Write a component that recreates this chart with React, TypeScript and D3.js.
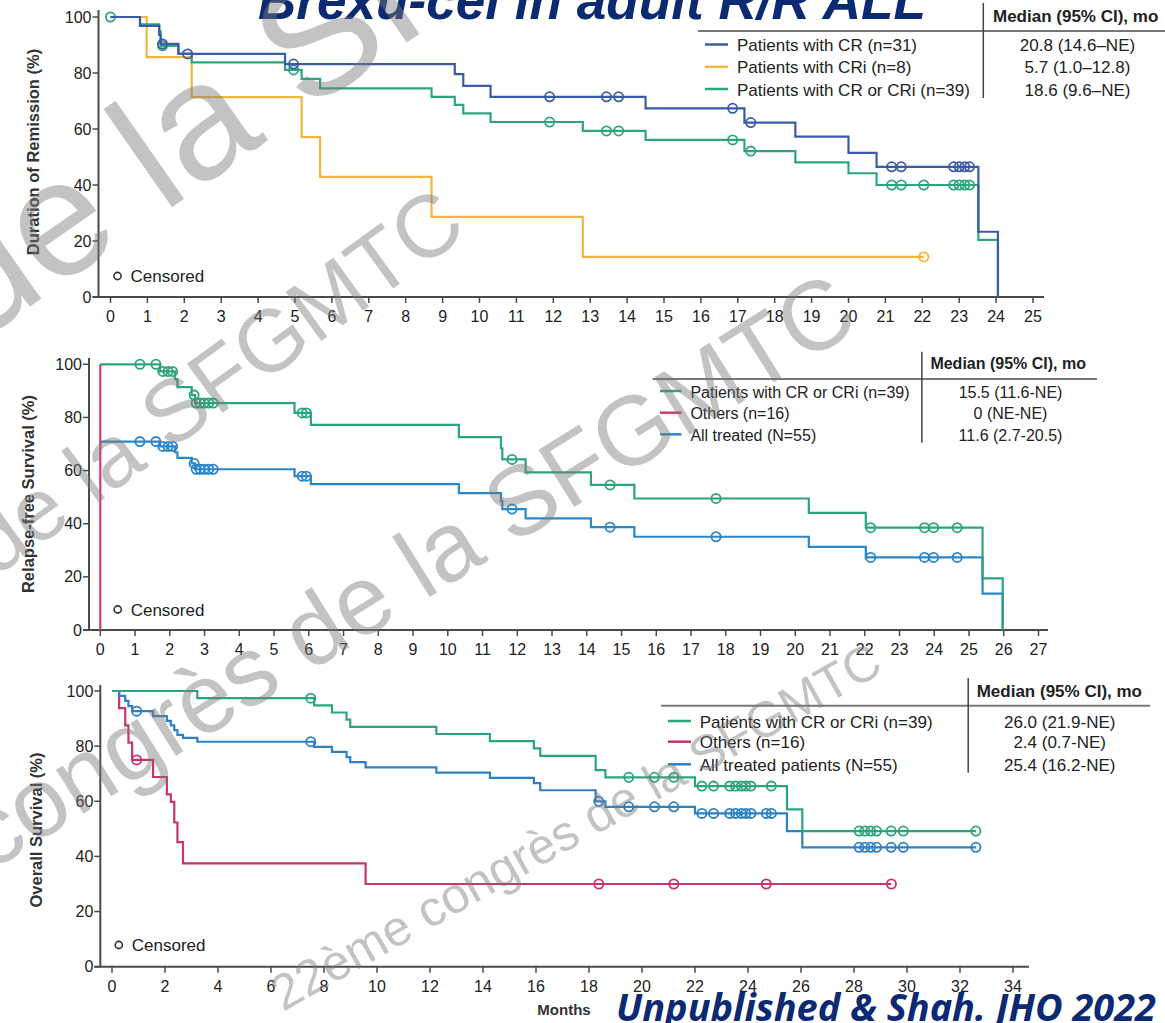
import React from "react"
import * as d3 from "d3"

// ---------- Panel 1 : duration of remission ----------
const dorCrTimes = [0, 0.8, 1.32, 1.36, 1.84, 4.73, 9.33, 9.56, 10.3, 14.5, 17.18, 18.56, 20.0, 20.76, 23.52, 24.05]
const dorCrSurv = [100, 96.8, 93.6, 90.4, 86.8, 83.2, 79.6, 75.4, 71.5, 67.4, 62.3, 57.3, 51.5, 46.5, 23.3, 0]
const dorCrCens = [1.41, 2.09, 4.96, 11.9, 13.44, 13.77, 16.86, 17.35, 21.17, 21.43, 22.85, 23.0, 23.15, 23.28]

const dorCriTimes = [0, 0.98, 2.2, 5.18, 5.68, 8.7, 12.8]
const dorCriSurv = [100, 85.7, 71.4, 57.1, 42.9, 28.6, 14.3]
const dorCriCens = [22.04]

const dorBothTimes = [0, 0.8, 1.32, 1.36, 1.84, 2.2, 4.73, 5.18, 5.68, 8.7, 9.33, 9.56, 10.3, 12.8, 14.5, 17.18, 18.56, 20.0, 20.76, 23.52, 24.05]
const dorBothSurv = [100, 97.4, 94.9, 89.7, 86.9, 83.8, 81.1, 77.9, 74.5, 71.5, 68.6, 65.6, 62.5, 59.3, 56.1, 52.1, 48.1, 44.2, 40.0, 20.4, 0]
const dorBothCens = [0, 1.41, 4.96, 11.9, 13.44, 13.77, 16.86, 17.35, 21.17, 21.43, 22.04, 22.85, 23.0, 23.15, 23.28]

const dorLabels = ["Patients with CR (n=31)", "Patients with CRi (n=8)", "Patients with CR or CRi (n=39)"]
const dorMedians = ["20.8 (14.6\u2013NE)", "5.7 (1.0\u201312.8)", "18.6 (9.6\u2013NE)"]

// ---------- Panel 2 : relapse-free survival ----------
const rfsCrTimes = [0, 1.72, 2.15, 2.22, 2.63, 2.73, 5.59, 6.06, 10.32, 11.53, 11.57, 12.24, 14.12, 15.37, 20.39, 22.03, 25.39, 25.97]
const rfsCrSurv = [100, 97.3, 94.4, 91.4, 88.4, 85.4, 81.7, 77.2, 72.6, 68.4, 64.2, 59.3, 54.6, 49.5, 44.1, 38.5, 19.4, 0]
const rfsCrCens = [1.14, 1.6, 1.8, 1.95, 2.08, 2.7, 2.76, 2.87, 2.99, 3.12, 3.25, 5.81, 5.93, 11.85, 14.67, 17.72, 22.17, 23.72, 23.98, 24.66]

const rfsOthTimes = [0, 0]
const rfsOthSurv = [100, 0]

const rfsAllTimes = [0, 1.72, 2.15, 2.22, 2.63, 2.73, 5.59, 6.06, 10.32, 11.53, 11.57, 12.24, 14.12, 15.37, 20.39, 22.03, 25.39, 25.97]
const rfsAllSurv = [70.9, 69.1, 66.9, 64.8, 62.7, 60.5, 57.9, 54.9, 51.5, 48.5, 45.5, 42.0, 38.7, 35.1, 31.3, 27.3, 13.7, 0]
const rfsAllCens = [1.14, 1.6, 1.8, 1.95, 2.08, 2.7, 2.76, 2.87, 2.99, 3.12, 3.25, 5.81, 5.93, 11.85, 14.67, 17.72, 22.17, 23.72, 23.98, 24.66]

const rfsLabels = ["Patients with CR or CRi (n=39)", "Others (n=16)", "All treated (N=55)"]
const rfsMedians = ["15.5 (11.6-NE)", "0 (NE-NE)", "11.6 (2.7-20.5)"]

// ---------- Panel 3 : overall survival ----------
const osCrTimes = [0, 3.22, 7.63, 8.3, 8.85, 8.99, 12.24, 14.26, 15.92, 16.16, 18.25, 18.62, 22.0, 25.47, 26.05]
const osCrSurv = [100, 97.4, 94.8, 92.2, 89.6, 87.0, 84.4, 81.8, 79.2, 76.5, 71.3, 68.7, 65.5, 57.1, 49.2]
const osCrCens = [7.5, 19.5, 20.47, 21.2, 22.26, 22.7, 23.31, 23.53, 23.75, 23.92, 24.11, 24.88, 28.19, 28.41, 28.63, 28.85, 29.4, 29.86, 32.6]

const osOthTimes = [0, 0.27, 0.5, 0.62, 0.76, 1.55, 2.07, 2.22, 2.35, 2.47, 2.68, 9.57]
const osOthSurv = [100, 93.8, 87.5, 81.3, 75.0, 68.8, 62.5, 59.8, 52.3, 45.2, 37.5, 30.0]
const osOthCens = [0.93, 18.37, 21.2, 24.69, 29.41]

const osAllTimes = [0, 0.27, 0.5, 0.62, 0.76, 1.55, 2.07, 2.22, 2.35, 2.47, 2.68, 3.22, 7.63, 8.3, 8.85, 8.99, 9.57, 12.24, 14.26, 15.92, 16.16, 18.25, 18.62, 22.0, 25.47, 26.05]
const osAllSurv = [100, 98.2, 96.4, 94.5, 92.7, 90.9, 89.2, 87.5, 85.8, 84.1, 83.0, 81.6, 79.7, 77.9, 76.0, 74.2, 72.3, 70.4, 68.5, 66.6, 64.0, 60.0, 58.0, 55.6, 49.2, 43.3]
const osAllCens = [0.93, 7.5, 18.37, 19.5, 20.47, 21.2, 22.26, 22.7, 23.31, 23.53, 23.75, 23.92, 24.11, 24.69, 24.88, 28.19, 28.41, 28.63, 28.85, 29.4, 29.86, 32.6]

const osLabels = ["Patients with CR or CRi (n=39)", "Others (n=16)", "All treated patients (N=55)"]
const osMedians = ["26.0 (21.9-NE)", "2.4 (0.7-NE)", "25.4 (16.2-NE)"]

const yTicks = [0, 20, 40, 60, 80, 100]

// watermark strings
const wmTexts = ["de la SFGMTC", "de la SFGMTC", "congrès de la SFGMTC", "22ème congrès de la SFGMTC"]

const FONT = "'Liberation Sans', Arial, Helvetica, sans-serif"
const NAVY = "#0b2a72"

type Series = { times: number[]; surv: number[]; cens: number[]; color: string }

const stepValue = (s: Series, t: number) => {
    // value of the step curve at time t
    const i = d3.bisectRight(s.times, t) - 1
    return s.surv[Math.max(0, i)]
}

const KmPanel = ({ cfg }: { cfg: any }) => {
    const x = d3.scaleLinear().domain(cfg.xDomain).range(cfg.xRange)
    const y = d3.scaleLinear().domain([0, 100]).range(cfg.yRange)
    const line = d3.line<[number, number]>()
        .x(d => x(d[0]))
        .y(d => y(d[1]))
        .curve(d3.curveStepAfter)
    const y0 = y(0)
    const lg = cfg.legend

    return (
        <g fontFamily={FONT}>
            {/* axes */}
            <line x1={cfg.yAxisX} x2={cfg.yAxisX} y1={cfg.yTop} y2={y0} stroke="#4a4a4a" strokeWidth={2} />
            <line x1={cfg.yAxisX - 6} x2={cfg.xAxisEnd} y1={y0} y2={y0} stroke="#4a4a4a" strokeWidth={2} />
            {yTicks.map(t => (
                <g key={"y" + t}>
                    <line x1={cfg.yAxisX - 6} x2={cfg.yAxisX} y1={y(t)} y2={y(t)} stroke="#4a4a4a" strokeWidth={1.5} />
                    <text x={cfg.yAxisX - 7} y={y(t)} dy="0.35em" textAnchor="end" fontSize={16} fill="#222">{t}</text>
                </g>
            ))}
            {cfg.xTicks.map((t: number) => (
                <g key={"x" + t}>
                    <line x1={x(t)} x2={x(t)} y1={y0} y2={y0 + 6} stroke="#4a4a4a" strokeWidth={1.5} />
                    <text x={x(t)} y={cfg.xLabelY} textAnchor="middle" fontSize={16} fill="#222">{t}</text>
                </g>
            ))}
            <text transform={`translate(${cfg.yLabelX},${cfg.yLabelY}) rotate(-90)`} textAnchor="middle"
                dy="0.35em" fontSize={16.5} fontWeight="bold" fill="#333">{cfg.yLabel}</text>

            {/* censored key */}
            <circle cx={cfg.censKey[0]} cy={cfg.censKey[1]} r={3.6} fill="none" stroke="#333" strokeWidth={1.6} />
            <text x={cfg.censKey[0] + 13} y={cfg.censKey[1]} dy="0.36em" fontSize={17} fill="#222">Censored</text>

            {/* curves */}
            {cfg.series.map((s: Series, i: number) => {
                const pts: [number, number][] = s.times.map((t, j) => [t, s.surv[j]])
                const lastC = s.cens.length ? d3.max(s.cens)! : 0
                if (lastC > s.times[s.times.length - 1]) pts.push([lastC, s.surv[s.surv.length - 1]])
                return (
                    <g key={"s" + i}>
                        <path d={line(pts)!} fill="none" stroke={s.color} strokeWidth={2.2} />
                        {s.cens.map((c, k) => (
                            <circle key={k} cx={x(c)} cy={y(stepValue(s, c))} r={4.6}
                                fill="none" stroke={s.color} strokeWidth={1.8} />
                        ))}
                    </g>
                )
            })}

            {/* legend table */}
            <line x1={lg.hx1} x2={lg.hx2} y1={lg.hy} y2={lg.hy} stroke="#777" strokeWidth={2} />
            <line x1={lg.vx} x2={lg.vx} y1={lg.vy1} y2={lg.vy2} stroke="#444" strokeWidth={1.5} />
            <text x={lg.headX} y={lg.headY} fontSize={lg.font} fontWeight="bold" fill="#222">Median (95% CI), mo</text>
            {lg.labels.map((lab: string, i: number) => (
                <g key={"l" + i}>
                    <line x1={lg.sx1} x2={lg.sx2} y1={lg.rows[i]} y2={lg.rows[i]} stroke={lg.colors[i]} strokeWidth={2.5} />
                    <text x={lg.tx} y={lg.rows[i] + 1} dominantBaseline="central" fontSize={lg.font} fill="#222">{lab}</text>
                    <text x={lg.valX} y={lg.rows[i] + 1} dominantBaseline="central" textAnchor="middle" fontSize={lg.font} fill="#222">{lg.values[i]}</text>
                </g>
            ))}
        </g>
    )
}

const App = () => {
    const p1 = {
        xDomain: [0, 25], xRange: [110.5, 1033], yRange: [297, 17],
        yAxisX: 98.5, yTop: 10, xAxisEnd: 1044, xTicks: d3.range(0, 26, 1), xLabelY: 322,
        yLabel: "Duration of Remission (%)", yLabelX: 33, yLabelY: 152, censKey: [117.5, 276],
        series: [
            { times: dorCriTimes, surv: dorCriSurv, cens: dorCriCens, color: "#f0b73a" },
            { times: dorBothTimes, surv: dorBothSurv, cens: dorBothCens, color: "#2ea57f" },
            { times: dorCrTimes, surv: dorCrSurv, cens: dorCrCens, color: "#3c5ba6" },
        ],
        legend: {
            hx1: 698, hx2: 1165, hy: 31, vx: 983.3, vy1: 3, vy2: 98, headX: 993, headY: 22,
            sx1: 705, sx2: 728, tx: 737, rows: [44.5, 66.8, 89], valX: 1077.5, font: 17,
            labels: dorLabels, values: dorMedians, colors: ["#3c5ba6", "#f0b73a", "#2ea57f"],
        },
    }
    const p2 = {
        xDomain: [0, 27], xRange: [100.3, 1038.5], yRange: [630, 364.3],
        yAxisX: 89, yTop: 358, xAxisEnd: 1048, xTicks: d3.range(0, 28, 1), xLabelY: 655,
        yLabel: "Relapse-free Survival (%)", yLabelX: 28, yLabelY: 494, censKey: [117.7, 609.5],
        series: [
            { times: rfsAllTimes, surv: rfsAllSurv, cens: rfsAllCens, color: "#2c86c8" },
            { times: rfsCrTimes, surv: rfsCrSurv, cens: rfsCrCens, color: "#2ca57b" },
            { times: rfsOthTimes, surv: rfsOthSurv, cens: [], color: "#d93a6e" },
        ],
        legend: {
            hx1: 652.6, hx2: 1097, hy: 379, vx: 921.9, vy1: 351.7, vy2: 442.7, headX: 930.4, headY: 369,
            sx1: 660, sx2: 681.5, tx: 690.4, rows: [391, 412.7, 434.3], valX: 1010.5, font: 16,
            labels: rfsLabels, values: rfsMedians, colors: ["#2ca57b", "#d93a6e", "#2c86c8"],
        },
    }
    const p3 = {
        xDomain: [0, 34], xRange: [112, 1013], yRange: [966.7, 691],
        yAxisX: 100.3, yTop: 685, xAxisEnd: 1029, xTicks: d3.range(0, 35, 2), xLabelY: 992,
        yLabel: "Overall Survival (%)", yLabelX: 36, yLabelY: 830, censKey: [118.8, 945],
        series: [
            { times: osOthTimes, surv: osOthSurv, cens: osOthCens, color: "#c8346f" },
            { times: osAllTimes, surv: osAllSurv, cens: osAllCens, color: "#2f80c2" },
            { times: osCrTimes, surv: osCrSurv, cens: osCrCens, color: "#2ca57b" },
        ],
        legend: {
            hx1: 661, hx2: 1150, hy: 705.7, vx: 968.2, vy1: 678, vy2: 772.7, headX: 976.7, headY: 697,
            sx1: 668, sx2: 691, tx: 699.7, rows: [721, 741.7, 764.3], valX: 1059.7, font: 17,
            labels: osLabels, values: osMedians, colors: ["#2ca57b", "#c8346f", "#2f80c2"],
        },
    }

    // watermark placement: [x, y, size, angle]
    const wmPlace = [[-25, 345, 165, -35], [-5, 578, 88, -36], [-10, 872, 98, -32], [283, 1012, 50, -29.5]]

    return (
        <svg width={1165} height={1023} style={{ position: "absolute", left: 0, top: 0, background: "#fff" }}>
            <rect width={1165} height={1023} fill="#fff" />
            <text x={258} y={19} fontFamily={FONT} fontSize={53} fontWeight="bold" fontStyle="italic"
                fill={NAVY} textLength={668} lengthAdjust="spacingAndGlyphs">Brexu-cel in adult R/R ALL</text>
            <KmPanel cfg={p1} />
            <KmPanel cfg={p2} />
            <KmPanel cfg={p3} />
            <text x={564} y={1015} textAnchor="middle" fontFamily={FONT} fontSize={15} fontWeight="bold" fill="#333">Months</text>
            <text x={616} y={1021} fontFamily="'Noto Sans', 'Open Sans', sans-serif" fontSize={37} fontWeight="bold"
                fontStyle="italic" fill={NAVY} textLength={540} lengthAdjust="spacingAndGlyphs">Unpublished &amp; Shah. JHO 2022</text>
            {wmTexts.map((t, i) => (
                <text key={i} transform={`translate(${wmPlace[i][0]},${wmPlace[i][1]}) rotate(${wmPlace[i][3]})`}
                    fontFamily={FONT} fontSize={wmPlace[i][2]} fill="#7a7a7a" fillOpacity={0.45}>{t}</text>
            ))}
        </svg>
    )
}

export default App
